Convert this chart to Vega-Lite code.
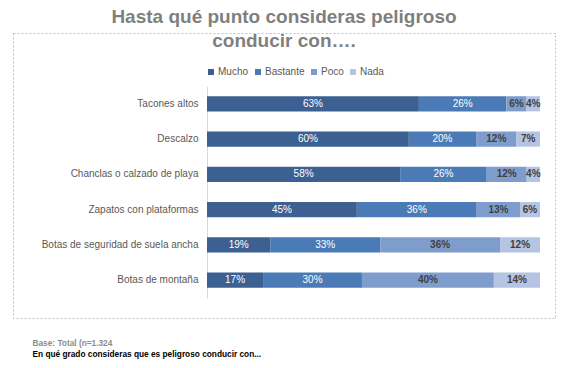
{
  "$schema": "https://vega.github.io/schema/vega-lite/v6.json",
  "width": 542,
  "height": 285,
  "autosize": {"type": "none"},
  "padding": {"left": 13, "top": 33, "right": 12, "bottom": 50},
  "background": "#ffffff",
  "config": {
    "font": "Liberation Sans",
    "view": {"stroke": "#bfbfbf", "strokeDash": [2, 2], "strokeWidth": 1}
  },
  "title": {
    "text": ["Hasta qué punto consideras peligroso", "conducir con…."],
    "fontSize": 19,
    "fontWeight": "bold",
    "color": "#7f7f7f",
    "font": "Liberation Sans",
    "anchor": "middle",
    "frame": "group",
    "offset": -18,
    "lineHeight": 24
  },
  "data": {
    "values": [
      {"item": "Tacones altos", "cat": "Mucho", "k": 1, "pct": 0.63},
      {"item": "Tacones altos", "cat": "Bastante", "k": 2, "pct": 0.26},
      {"item": "Tacones altos", "cat": "Poco", "k": 3, "pct": 0.06},
      {"item": "Tacones altos", "cat": "Nada", "k": 4, "pct": 0.04},
      {"item": "Descalzo", "cat": "Mucho", "k": 1, "pct": 0.60},
      {"item": "Descalzo", "cat": "Bastante", "k": 2, "pct": 0.20},
      {"item": "Descalzo", "cat": "Poco", "k": 3, "pct": 0.12},
      {"item": "Descalzo", "cat": "Nada", "k": 4, "pct": 0.07},
      {"item": "Chanclas o calzado de playa", "cat": "Mucho", "k": 1, "pct": 0.58},
      {"item": "Chanclas o calzado de playa", "cat": "Bastante", "k": 2, "pct": 0.26},
      {"item": "Chanclas o calzado de playa", "cat": "Poco", "k": 3, "pct": 0.12},
      {"item": "Chanclas o calzado de playa", "cat": "Nada", "k": 4, "pct": 0.04},
      {"item": "Zapatos con plataformas", "cat": "Mucho", "k": 1, "pct": 0.45},
      {"item": "Zapatos con plataformas", "cat": "Bastante", "k": 2, "pct": 0.36},
      {"item": "Zapatos con plataformas", "cat": "Poco", "k": 3, "pct": 0.13},
      {"item": "Zapatos con plataformas", "cat": "Nada", "k": 4, "pct": 0.06},
      {"item": "Botas de seguridad de suela ancha", "cat": "Mucho", "k": 1, "pct": 0.19},
      {"item": "Botas de seguridad de suela ancha", "cat": "Bastante", "k": 2, "pct": 0.33},
      {"item": "Botas de seguridad de suela ancha", "cat": "Poco", "k": 3, "pct": 0.36},
      {"item": "Botas de seguridad de suela ancha", "cat": "Nada", "k": 4, "pct": 0.12},
      {"item": "Botas de montaña", "cat": "Mucho", "k": 1, "pct": 0.17},
      {"item": "Botas de montaña", "cat": "Bastante", "k": 2, "pct": 0.30},
      {"item": "Botas de montaña", "cat": "Poco", "k": 3, "pct": 0.40},
      {"item": "Botas de montaña", "cat": "Nada", "k": 4, "pct": 0.14}
    ]
  },
  "transform": [
    {"stack": "pct", "groupby": ["item"], "sort": [{"field": "k", "order": "ascending"}], "offset": "normalize", "as": ["x0", "x1"]},
    {"calculate": "(datum.x0 + datum.x1) / 2", "as": "xm"}
  ],
  "encoding": {
    "y": {
      "field": "item",
      "type": "nominal",
      "sort": ["Tacones altos", "Descalzo", "Chanclas o calzado de playa", "Zapatos con plataformas", "Botas de seguridad de suela ancha", "Botas de montaña"],
      "scale": {"range": [53, 265], "paddingInner": 0.57, "paddingOuter": 0.29},
      "axis": {
        "title": "En qué grado consideras que es peligroso conducir con...",
        "titleAngle": 0,
        "titleAlign": "left",
        "titleBaseline": "middle",
        "titleX": -175,
        "titleY": 321,
        "titleFontSize": 8.3,
        "titleFontWeight": "bold",
        "titleColor": "#000000",
        "offset": -194,
        "domainColor": "#d9d9d9",
        "ticks": false,
        "grid": false,
        "labelFontSize": 10,
        "labelColor": "#595959",
        "labelPadding": 9
      }
    }
  },
  "layer": [
    {
      "mark": {"type": "bar"},
      "encoding": {
        "x": {
          "field": "x0",
          "type": "quantitative",
          "scale": {"domain": [0, 1], "range": [194, 527], "nice": false, "zero": false},
          "axis": {
            "title": "Base: Total (n=1.324",
            "titleAlign": "left",
            "titleBaseline": "middle",
            "titleX": 19,
            "titleY": 25,
            "titleFontSize": 8.3,
            "titleFontWeight": "bold",
            "titleColor": "#8c8c8c",
            "domain": false,
            "ticks": false,
            "labels": false,
            "grid": false
          }
        },
        "x2": {"field": "x1"},
        "color": {
          "field": "cat",
          "type": "nominal",
          "scale": {"domain": ["Mucho", "Bastante", "Poco", "Nada"], "range": ["#3c6091", "#4a7bb7", "#7f9dcc", "#b4c4e2"]},
          "legend": {
            "title": null,
            "orient": "none",
            "legendX": 193,
            "legendY": 34,
            "direction": "horizontal",
            "symbolType": "square",
            "symbolSize": 36,
            "symbolStrokeWidth": 0,
            "labelFontSize": 10,
            "labelColor": "#595959",
            "labelOffset": 2,
            "columnPadding": 4
          }
        }
      }
    },
    {
      "transform": [{"filter": "datum.k <= 2"}],
      "mark": {"type": "text", "fontSize": 10, "color": "#ffffff", "baseline": "middle"},
      "encoding": {
        "x": {"field": "xm", "type": "quantitative"},
        "text": {"field": "pct", "type": "quantitative", "format": ".0%"}
      }
    },
    {
      "transform": [{"filter": "datum.k >= 3"}],
      "mark": {"type": "text", "fontSize": 10, "fontWeight": "bold", "color": "#404040", "baseline": "middle"},
      "encoding": {
        "x": {"field": "xm", "type": "quantitative"},
        "text": {"field": "pct", "type": "quantitative", "format": ".0%"}
      }
    }
  ]
}
